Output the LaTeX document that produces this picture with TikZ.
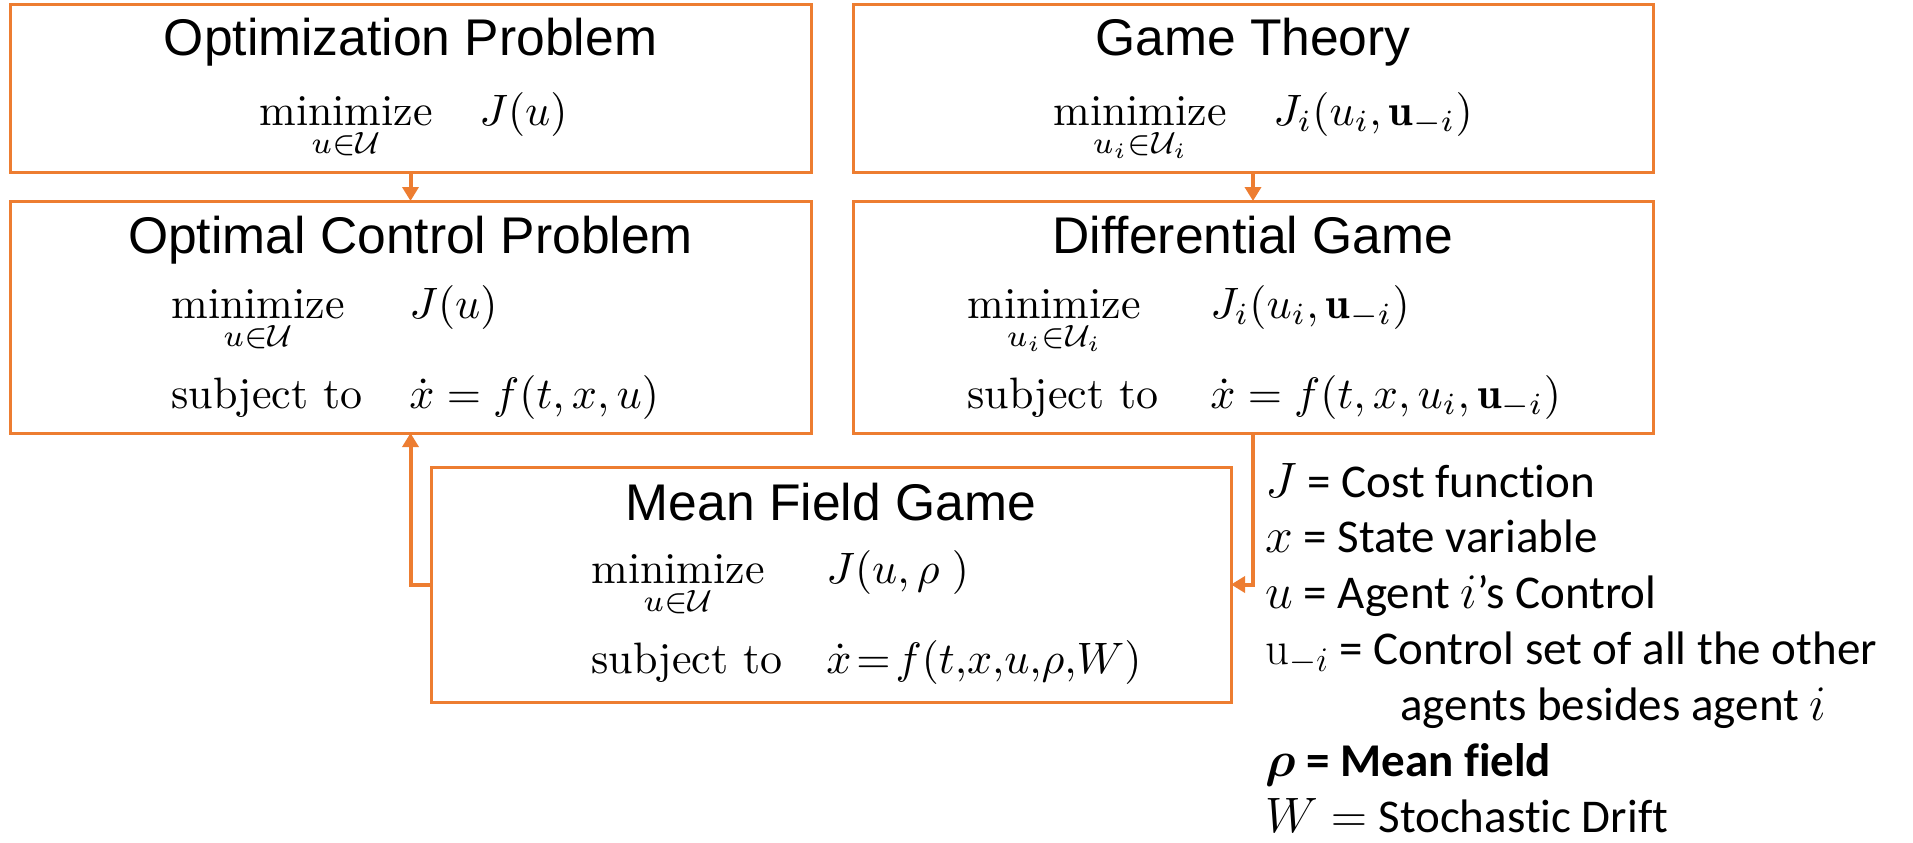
\documentclass[tikz,border=0pt]{standalone}
\usepackage{amsmath,amssymb}
\usepackage{graphicx}
\usepackage{fontspec}
\newfontfamily\titlefont{Liberation Sans}
\newfontfamily\legendfont[Ligatures=NoCommon]{Carlito}
\usepackage{xcolor}
\usepackage{tikz}
\usetikzlibrary{arrows.meta,positioning}
\definecolor{boxorange}{RGB}{237,125,49}
% one formula row: fixed-width left column, then the right part
\newcommand{\mrow}[3]{\makebox[#1][l]{\scalebox{2.2}{$\displaystyle #2$}}\scalebox{2.2}{$\displaystyle #3$}}

\begin{document}
\begin{tikzpicture}[x=0.5pt, y=-0.5pt, >={Triangle[length=7pt,width=8pt]},
  box/.style={draw=boxorange, line width=1.5pt, rectangle, inner sep=0pt, outer sep=0pt},
  title/.style={anchor=base, inner sep=0pt, font=\titlefont\fontsize{25.8}{30}\selectfont},
  formula/.style={anchor=base west, inner sep=0pt, font=\fontsize{10}{12}\selectfont},
  legend/.style={anchor=base west, inner sep=0pt, font=\legendfont\fontsize{23.5}{28}\selectfont},
  flow/.style={->, draw=boxorange, line width=2pt}]
  \useasboundingbox (0,0) rectangle (1913,842);
  % boxes
  \node[box, minimum width=400.5pt, minimum height=84pt]   (opt)  at (410.5,88)  {};
  \node[box, minimum width=400.5pt, minimum height=116pt]  (ctrl) at (410.5,317) {};
  \node[box, minimum width=400pt, minimum height=84pt]     (game) at (1253,88)   {};
  \node[box, minimum width=400pt, minimum height=116pt]    (diff) at (1253,317)  {};
  \node[box, minimum width=400pt, minimum height=117.5pt]  (mfg)  at (831,584.5) {};
  % titles
  \node[title] (optT)  at (410.5,55) {Optimization Problem};
  \node[title] (ctrlT) at (410.5,253) {Optimal Control Problem};
  \node[title] (gameT) at (1253,55) {Game Theory};
  \node[title] (diffT) at (1253,253) {Differential Game};
  \node[title] (mfgT)  at (831,520) {Mean Field Game};
  % formulas
  \node[formula] (optF) at (259,125)
    {\mrow{110pt}{\operatorname*{minimize}_{u\in\mathcal{U}}}{J(u)}};
  \node[formula] (ctrlF) at (171,318)
    {\mrow{119pt}{\operatorname*{minimize}_{u\in\mathcal{U}}}{J(u)}};
  \node[formula] (ctrlS) at (171,408)
    {\mrow{119pt}{\text{subject to}}{\dot{x} = f(t,x,u)}};
  \node[formula] (gameF) at (1053,125)
    {\mrow{110pt}{\operatorname*{minimize}_{u_i\in\mathcal{U}_i}}{J_i(u_i,\mathbf{u}_{-i})}};
  \node[formula] (diffF) at (967,318)
    {\mrow{121.5pt}{\operatorname*{minimize}_{u_i\in\mathcal{U}_i}}{J_i(u_i,\mathbf{u}_{-i})}};
  \node[formula] (diffS) at (967,408)
    {\mrow{121.5pt}{\text{subject to}}{\dot{x} = f(t,x,u_i,\mathbf{u}_{-i})}};
  \node[formula] (mfgF) at (591,583)
    {\mrow{117.5pt}{\operatorname*{minimize}_{u\in\mathcal{U}}}{J(u,\rho\;)}};
  \node[formula] (mfgS) at (591,673)
    {\mrow{117.5pt}{\text{subject to}}{\dot{x}\!=\!f(t,\!x,\!u,\!\rho,\!W)}};
  % connectors
  \draw[flow] (opt) -- (ctrl);
  \draw[flow] (game) -- (diff);
  \draw[flow] (mfg.west) -| (ctrl.south);
  \draw[flow] (diff.south) |- (mfg.east);
  % legend
  \node[legend] (legJ)   at (1265,497) {$J$ = Cost function};
  \node[legend] (legx)   at (1265,552) {$x$ = State variable};
  \node[legend] (legu)   at (1265,608) {$u$ = Agent $i$’s Control};
  \node[legend] (legui)  at (1265,664) {$\mathrm{u}_{-i}$ = Control set of all the other};
  \node[legend] (legag)  at (1400,720) {agents besides agent $i$};
  \node[legend] (legrho) at (1265,776) {\bfseries $\boldsymbol{\rho}$ = Mean field};
  \node[legend] (legW)   at (1265,832) {$W =$ Stochastic Drift};
\end{tikzpicture}
\end{document}
